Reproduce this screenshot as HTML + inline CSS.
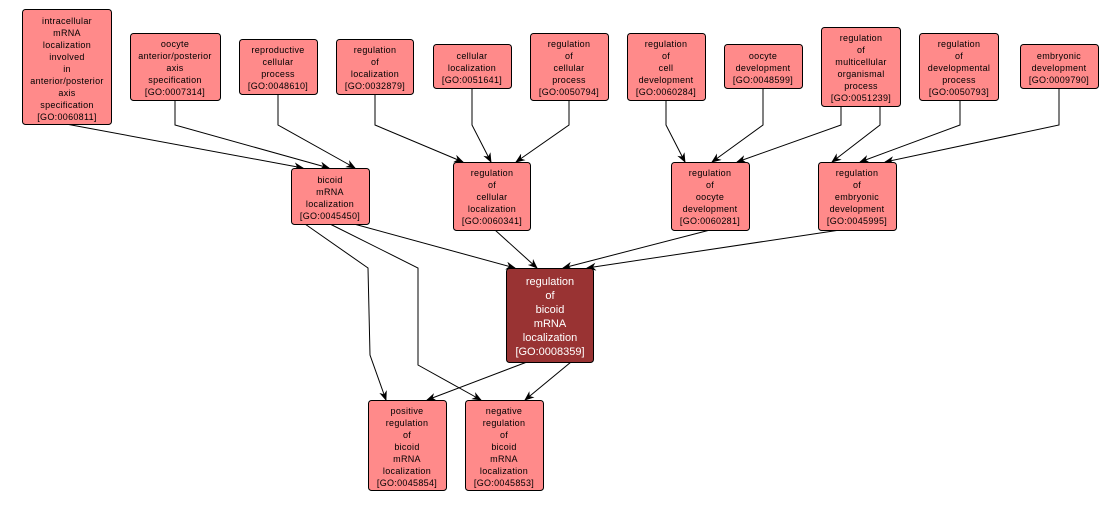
<!DOCTYPE html>
<html><head><meta charset="utf-8"><style>
body{margin:0;background:#fff;}
svg text{font-family:"Liberation Sans",sans-serif;font-size:9px;fill:#000;text-anchor:middle;letter-spacing:0.3px;}
</style></head><body>
<svg width="1120" height="502" viewBox="0 0 1120 502" xmlns="http://www.w3.org/2000/svg">
<defs><marker id="a" markerWidth="10" markerHeight="8" refX="9" refY="4" orient="auto" markerUnits="userSpaceOnUse"><path d="M0,0 L10,4 L0,8 L3,4 z" fill="#000"/></marker></defs>
<g fill="none" stroke="#000" stroke-width="1" marker-end="url(#a)">
<path d="M66,124 L303,168"/>
<path d="M175,100 L175,125 L329,168"/>
<path d="M278,94 L278,125 L355,168"/>
<path d="M375,94 L375,125 L463,162"/>
<path d="M472,88 L472,125 L491,162"/>
<path d="M569,100 L569,125 L516,162"/>
<path d="M666,100 L666,125 L685,162"/>
<path d="M763,88 L763,125 L712,162"/>
<path d="M841,106 L841,125 L737,162"/>
<path d="M880,106 L880,125 L832,162"/>
<path d="M960,100 L960,125 L860,162"/>
<path d="M1059,88 L1059,125 L885,162"/>
<path d="M354,224 L515,268"/>
<path d="M305,224 L368,268 L370,355 L386,400"/>
<path d="M330,224 L418,268 L418,365 L481,400"/>
<path d="M495,230 L537,268"/>
<path d="M710,230 L563,268"/>
<path d="M840,230 L587,268"/>
<path d="M527,362 L427,400"/>
<path d="M571,362 L525,400"/>
</g>
<g fill="#ff8a8a" stroke="#000" stroke-width="1">
<rect x="22.5" y="9.5" width="89" height="115" rx="3"/>
<rect x="130.5" y="33.5" width="90" height="67" rx="3"/>
<rect x="239.5" y="39.5" width="78" height="55" rx="3"/>
<rect x="336.5" y="39.5" width="77" height="55" rx="3"/>
<rect x="433.5" y="44.5" width="78" height="44" rx="3"/>
<rect x="530.5" y="33.5" width="78" height="67" rx="3"/>
<rect x="627.5" y="33.5" width="78" height="67" rx="3"/>
<rect x="724.5" y="44.5" width="78" height="44" rx="3"/>
<rect x="821.5" y="27.5" width="79" height="79" rx="3"/>
<rect x="919.5" y="33.5" width="79" height="67" rx="3"/>
<rect x="1020.5" y="44.5" width="78" height="44" rx="3"/>
<rect x="291.5" y="168.5" width="78" height="56" rx="3"/>
<rect x="453.5" y="162.5" width="77" height="68" rx="3"/>
<rect x="671.5" y="162.5" width="78" height="68" rx="3"/>
<rect x="818.5" y="162.5" width="78" height="68" rx="3"/>
<rect x="368.5" y="400.5" width="78" height="90" rx="3"/>
<rect x="465.5" y="400.5" width="78" height="90" rx="3"/>
<rect x="506.5" y="268.5" width="87" height="94" rx="3" fill="#993333"/>
</g>
<text x="67" y="24">intracellular<tspan x="67" dy="12">mRNA</tspan><tspan x="67" dy="12">localization</tspan><tspan x="67" dy="12">involved</tspan><tspan x="67" dy="12">in</tspan><tspan x="67" dy="12">anterior/posterior</tspan><tspan x="67" dy="12">axis</tspan><tspan x="67" dy="12">specification</tspan><tspan x="67" dy="12">[GO:0060811]</tspan></text>
<text x="175" y="47">oocyte<tspan x="175" dy="12">anterior/posterior</tspan><tspan x="175" dy="12">axis</tspan><tspan x="175" dy="12">specification</tspan><tspan x="175" dy="12">[GO:0007314]</tspan></text>
<text x="278" y="53">reproductive<tspan x="278" dy="12">cellular</tspan><tspan x="278" dy="12">process</tspan><tspan x="278" dy="12">[GO:0048610]</tspan></text>
<text x="375" y="53">regulation<tspan x="375" dy="12">of</tspan><tspan x="375" dy="12">localization</tspan><tspan x="375" dy="12">[GO:0032879]</tspan></text>
<text x="472" y="59">cellular<tspan x="472" dy="12">localization</tspan><tspan x="472" dy="12">[GO:0051641]</tspan></text>
<text x="569" y="47">regulation<tspan x="569" dy="12">of</tspan><tspan x="569" dy="12">cellular</tspan><tspan x="569" dy="12">process</tspan><tspan x="569" dy="12">[GO:0050794]</tspan></text>
<text x="666" y="47">regulation<tspan x="666" dy="12">of</tspan><tspan x="666" dy="12">cell</tspan><tspan x="666" dy="12">development</tspan><tspan x="666" dy="12">[GO:0060284]</tspan></text>
<text x="763" y="59">oocyte<tspan x="763" dy="12">development</tspan><tspan x="763" dy="12">[GO:0048599]</tspan></text>
<text x="861" y="41">regulation<tspan x="861" dy="12">of</tspan><tspan x="861" dy="12">multicellular</tspan><tspan x="861" dy="12">organismal</tspan><tspan x="861" dy="12">process</tspan><tspan x="861" dy="12">[GO:0051239]</tspan></text>
<text x="959" y="47">regulation<tspan x="959" dy="12">of</tspan><tspan x="959" dy="12">developmental</tspan><tspan x="959" dy="12">process</tspan><tspan x="959" dy="12">[GO:0050793]</tspan></text>
<text x="1059" y="59">embryonic<tspan x="1059" dy="12">development</tspan><tspan x="1059" dy="12">[GO:0009790]</tspan></text>
<text x="330" y="183">bicoid<tspan x="330" dy="12">mRNA</tspan><tspan x="330" dy="12">localization</tspan><tspan x="330" dy="12">[GO:0045450]</tspan></text>
<text x="492" y="176">regulation<tspan x="492" dy="12">of</tspan><tspan x="492" dy="12">cellular</tspan><tspan x="492" dy="12">localization</tspan><tspan x="492" dy="12">[GO:0060341]</tspan></text>
<text x="710" y="176">regulation<tspan x="710" dy="12">of</tspan><tspan x="710" dy="12">oocyte</tspan><tspan x="710" dy="12">development</tspan><tspan x="710" dy="12">[GO:0060281]</tspan></text>
<text x="857" y="176">regulation<tspan x="857" dy="12">of</tspan><tspan x="857" dy="12">embryonic</tspan><tspan x="857" dy="12">development</tspan><tspan x="857" dy="12">[GO:0045995]</tspan></text>
<text x="407" y="414">positive<tspan x="407" dy="12">regulation</tspan><tspan x="407" dy="12">of</tspan><tspan x="407" dy="12">bicoid</tspan><tspan x="407" dy="12">mRNA</tspan><tspan x="407" dy="12">localization</tspan><tspan x="407" dy="12">[GO:0045854]</tspan></text>
<text x="504" y="414">negative<tspan x="504" dy="12">regulation</tspan><tspan x="504" dy="12">of</tspan><tspan x="504" dy="12">bicoid</tspan><tspan x="504" dy="12">mRNA</tspan><tspan x="504" dy="12">localization</tspan><tspan x="504" dy="12">[GO:0045853]</tspan></text>
<text x="550" y="285" style="fill:#fff;font-size:11px;letter-spacing:0">regulation<tspan x="550" dy="14">of</tspan><tspan x="550" dy="14">bicoid</tspan><tspan x="550" dy="14">mRNA</tspan><tspan x="550" dy="14">localization</tspan><tspan x="550" dy="14">[GO:0008359]</tspan></text>
</svg>
</body></html>
